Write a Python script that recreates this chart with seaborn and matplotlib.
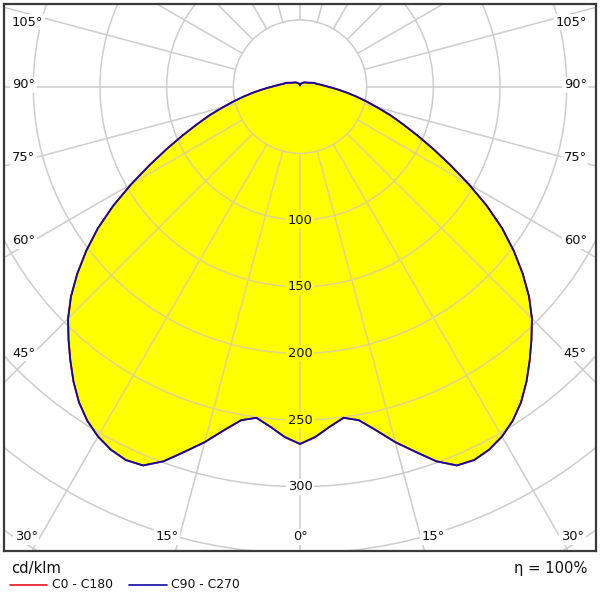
import numpy as np
import pandas as pd
import matplotlib
matplotlib.use("Agg")
import matplotlib.pyplot as plt
import seaborn as sns
from matplotlib.patches import Circle
from matplotlib.lines import Line2D
from matplotlib import font_manager

# ---------------- data (cd/klm) ----------------
gamma = [0, 2.5, 5, 7.5, 10, 12.5, 15, 17.5, 20, 22.5, 25, 27.5, 30, 32.5, 35,
         37.5, 40, 42.5, 45, 47.5, 50, 52.5, 55, 57.5, 60, 62.5, 65, 67.5, 70,
         72.5, 75, 77.5, 80, 82.5, 85, 87.5, 90, 92.5, 95, 97.5, 100, 105,
         110, 120, 130, 140, 150, 160, 170, 180]
c0_c180 = [268, 263, 256, 250.5, 254, 264, 276, 287, 299, 307.5, 309, 307, 303, 297, 289,
           279, 268, 257, 246, 233, 218, 202, 185, 166, 146, 127, 110, 95, 82,
           71, 60, 51, 43, 36, 30, 25, 21, 18, 16, 14, 12.5, 11,
           8.5, 6, 5, 4, 3, 2.5, 2, 1]
c90_c270 = [268, 263, 256, 250.5, 254, 264, 276, 287, 299, 307.5, 309, 307, 303, 297, 289,
            279, 268, 257, 246, 233, 218, 202, 185, 166, 146, 127, 110, 95, 82,
            71, 60, 51, 43, 36, 30, 25, 21, 18, 16, 14, 12.5, 11,
            8.5, 6, 5, 4, 3, 2.5, 2, 1]
series_names = ["C0 - C180", "C90 - C270"]
series_colors = ["#e8141c", "#0c0ca0"]
ring_values = [50, 100, 150, 200, 250, 300, 350, 400, 450]
ring_labels = [100, 150, 200, 250, 300]
angle_ticks = list(range(0, 181, 15))
unit_text = "cd/klm"
eta_text = "η = 100%"

# ---------------- build curves ----------------
def to_xy(g, I):
    g = np.radians(np.asarray(g, float))
    I = np.asarray(I, float)
    xl = -(I * np.sin(g))[::-1]
    yl = -(I * np.cos(g))[::-1]
    xr = I * np.sin(g)
    yr = -I * np.cos(g)
    return np.concatenate([xl, xr[1:]]), np.concatenate([yl, yr[1:]])

frames = []
for name, vals in zip(series_names, [c0_c180, c90_c270]):
    x, y = to_xy(gamma, vals)
    frames.append(pd.DataFrame({"x": x, "y": y, "plane": name}))
df = pd.concat(frames, ignore_index=True)

sns.set_style("white")
names = {f.name for f in font_manager.fontManager.ttflist}
fam = ["DejaVu Sans Condensed", "DejaVu Sans"] if "DejaVu Sans Condensed" in names else ["DejaVu Sans"]
plt.rcParams["font.family"] = fam
plt.rcParams["font.stretch"] = "condensed" if fam[0] == "DejaVu Sans Condensed" else "normal"

W = H = 600
fig = plt.figure(figsize=(6, 6), dpi=100)
fig.patch.set_facecolor("white")
ax = fig.add_axes([4 / W, 49 / H, 592 / W, 547 / H])
ax.set_xlim(-222, 222)
ax.set_ylim(-348.25, 62)
ax.set_xticks([])
ax.set_yticks([])
for s in ax.spines.values():
    s.set_color("#3a3a3a")
    s.set_linewidth(1.6)
    s.set_zorder(10)

# yellow fill
fx, fy = to_xy(gamma, c90_c270)
fill_patch = ax.fill(fx, fy, color="#ffff00", zorder=1, lw=0)[0]


def draw_grid(color, z, clip=None):
    arts = []
    for r in ring_values:
        c = Circle((0, 0), r, fill=False, ec=color, lw=1.1, zorder=z)
        ax.add_patch(c)
        arts.append(c)
    for a in angle_ticks:
        t = np.radians(a)
        for sgn in (-1, 1):
            if a in (0, 180) and sgn == -1:
                continue
            ln, = ax.plot([sgn * 50 * np.sin(t), sgn * 600 * np.sin(t)],
                          [-50 * np.cos(t), -600 * np.cos(t)],
                          color=color, lw=1.1, zorder=z,
                          solid_capstyle="butt")
            arts.append(ln)
    if clip is not None:
        for a_ in arts:
            a_.set_clip_path(clip)


draw_grid("#cdcdcd", 0.5)                  # grey grid on white
draw_grid("#ded48e", 2, clip=fill_patch)   # tan grid inside the yellow area

# curves via seaborn
sns.lineplot(data=df, x="x", y="y", hue="plane", hue_order=series_names,
             palette=dict(zip(series_names, series_colors)), sort=False,
             estimator=None, units="plane", legend=False, lw=1.3, ax=ax,
             zorder=4)
ax.set_xlabel("")
ax.set_ylabel("")

# ring labels
fs = 9.4
tc = "#111111"
for v in ring_labels:
    fc = "#ffff00" if v < c90_c270[0] else "white"
    ax.text(0, -v, str(v), ha="center", va="center", fontsize=fs,
            color=tc, zorder=6,
            bbox=dict(boxstyle="square,pad=0.12", fc=fc, ec="none"))

# angle labels (positions are layout)
side_y = {45: -200, 60: -115.5, 75: -53, 90: 1.5, 105: 48.5}
bb = dict(boxstyle="square,pad=0.12", fc="white", ec="none")
for a, yy in side_y.items():
    ax.text(-216, yy, f"{a}°", ha="left", va="center", fontsize=fs,
            color=tc, zorder=6, bbox=bb)
    ax.text(215, yy, f"{a}°", ha="right", va="center", fontsize=fs,
            color=tc, zorder=6, bbox=bb)
ax.text(0, -337.5, "0°", ha="center", va="center", fontsize=fs,
        color=tc, zorder=6, bbox=bb)
for sgn in (-1, 1):
    ax.text(sgn * 100, -337.5, "15°", ha="center", va="center", fontsize=fs,
            color=tc, zorder=6, bbox=bb)
ax.text(-214, -337.5, "30°", ha="left", va="center", fontsize=fs,
        color=tc, zorder=6, bbox=bb)
ax.text(213, -337.5, "30°", ha="right", va="center", fontsize=fs,
        color=tc, zorder=6, bbox=bb)

# bottom texts
fig.text(11 / W, 1 - 568 / H, unit_text, ha="left", va="center",
         fontsize=10.6, color=tc)
fig.text(587 / W, 1 - 568 / H, eta_text, ha="right", va="center",
         fontsize=10.6, color=tc)

# legend (manual)
ly = 1 - 585 / H
fig.add_artist(Line2D([10 / W, 47 / W], [ly, ly], color=series_colors[0],
                      lw=1.2, transform=fig.transFigure))
fig.text(52 / W, ly, series_names[0], ha="left", va="center", fontsize=8.9,
         color=tc)
fig.add_artist(Line2D([129 / W, 167 / W], [ly, ly], color=series_colors[1],
                      lw=1.2, transform=fig.transFigure))
fig.text(171 / W, ly, series_names[1], ha="left", va="center", fontsize=8.9,
         color=tc)

fig.savefig("out.png", dpi=100, facecolor="white")
